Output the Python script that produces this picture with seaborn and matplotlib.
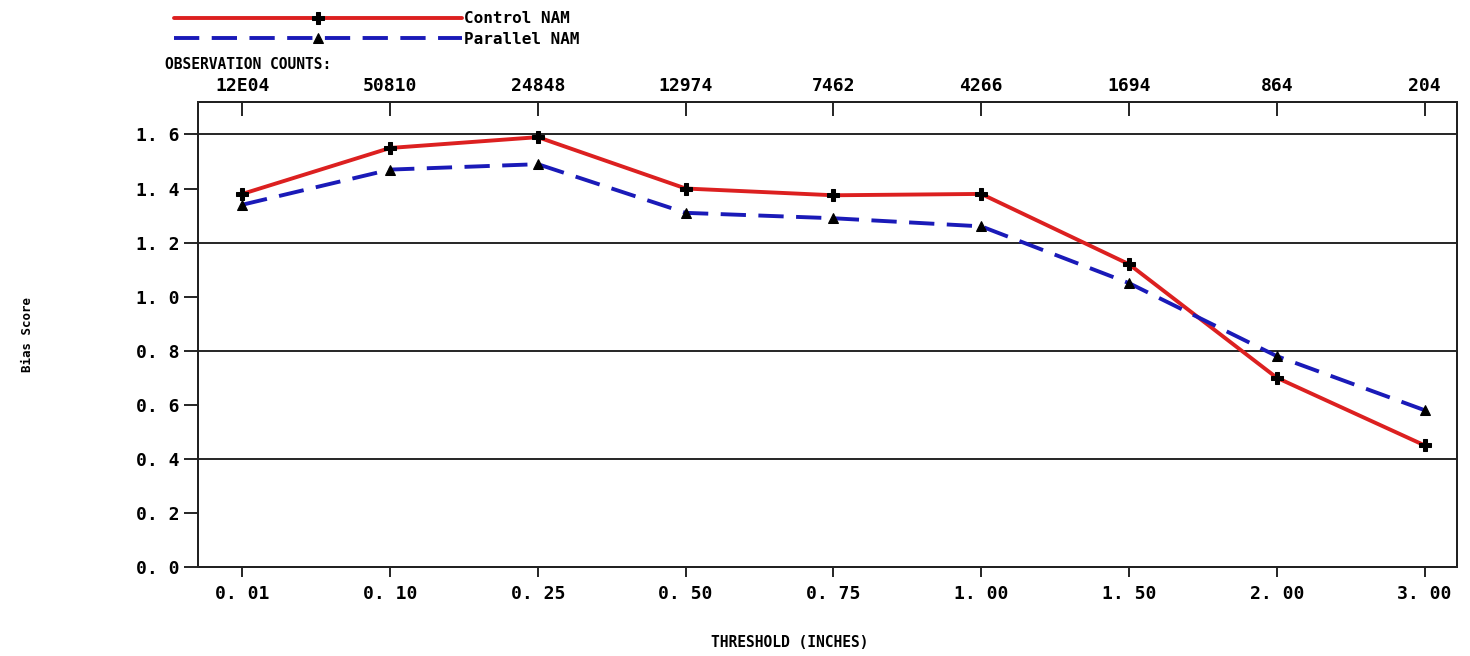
#!/usr/bin/env python3
"""
Bias score by precipitation threshold: Control NAM vs Parallel NAM.
"""

import pandas as pd
import matplotlib
matplotlib.use('Agg')
import matplotlib.pyplot as plt
import seaborn as sns

# Chart data
thresholds = ['0. 01', '0. 10', '0. 25', '0. 50', '0. 75', '1. 00', '1. 50', '2. 00', '3. 00']
obs_counts = ['12E04', '50810', '24848', '12974', '7462', '4266', '1694', '864', '204']
control_nam = [1.38, 1.55, 1.59, 1.40, 1.375, 1.38, 1.12, 0.70, 0.45]
parallel_nam = [1.34, 1.47, 1.49, 1.31, 1.29, 1.26, 1.05, 0.78, 0.58]
y_ticks = [0.0, 0.2, 0.4, 0.6, 0.8, 1.0, 1.2, 1.4, 1.6]
y_tick_labels = ['0. 0', '0. 2', '0. 4', '0. 6', '0. 8', '1. 0', '1. 2', '1. 4', '1. 6']
grid_levels = [0.4, 0.8, 1.2, 1.6]

sns.set_theme(style='ticks')
plt.rcParams['font.family'] = ['DejaVu Sans Mono', 'DejaVu Sans']
plt.rcParams['font.weight'] = 'bold'
plt.rcParams['text.color'] = 'black'

df = pd.DataFrame({
    'threshold': thresholds * 2,
    'bias': control_nam + parallel_nam,
    'run': ['Control NAM'] * len(thresholds) + ['Parallel NAM'] * len(thresholds),
})

fig = plt.figure(figsize=(14.7, 6.56), dpi=100)
ax = fig.add_axes([0.1347, 0.1357, 0.8565, 0.7088])

# horizontal reference lines
for lvl in grid_levels:
    ax.axhline(lvl, color='black', lw=1.2, zorder=1)

sns.lineplot(data=df[df.run == 'Control NAM'], x='threshold', y='bias', ax=ax,
             color='#dc2020', lw=2.8, marker='P', markersize=9,
             markerfacecolor='black', markeredgecolor='black',
             label='Control NAM', sort=False, zorder=3)
sns.lineplot(data=df[df.run == 'Parallel NAM'], x='threshold', y='bias', ax=ax,
             color='#1a1ab8', lw=2.8, marker='^', markersize=7,
             markerfacecolor='black', markeredgecolor='black',
             label='Parallel NAM', sort=False, zorder=3)
ax.lines[-1].set_dashes((6.5, 3.2))

ax.set_xlim(-0.3, len(thresholds) - 1 + 0.22)
ax.set_ylim(0, 1.72)
ax.set_yticks(y_ticks)
ax.set_yticklabels(y_tick_labels)
ax.set_xlabel('')
ax.set_ylabel('')
ax.tick_params(axis='y', direction='out', length=10, width=1.2, pad=3,
               labelsize=13, colors='black')
ax.tick_params(axis='x', direction='out', length=7, width=1.2, pad=6,
               labelsize=13, colors='black')
for sp in ax.spines.values():
    sp.set_visible(True)
    sp.set_color('black')
    sp.set_linewidth(1.4)

# observation counts on the top axis
top = ax.twiny()
top.set_xlim(ax.get_xlim())
top.set_xticks(range(len(obs_counts)))
top.set_xticklabels(obs_counts)
top.tick_params(axis='x', direction='in', length=10, width=1.2, pad=5,
                labelsize=13, colors='black')

fig.text(0.112, 0.901, 'OBSERVATION COUNTS:', fontsize=10.5, fontweight='bold',
         va='center', ha='left')
fig.text(0.537, 0.021, 'THRESHOLD (INCHES)', fontsize=10.5, fontweight='bold',
         va='center', ha='center')
fig.text(0.019, 0.49, 'Bias Score', fontsize=9, fontweight='bold', rotation=90,
         va='center', ha='center')

handles, labels = ax.get_legend_handles_labels()
ax.legend(handles, labels, loc='upper left', bbox_to_anchor=(0.111, 1.0),
          bbox_transform=fig.transFigure, frameon=False, handlelength=18,
          handletextpad=0.15, labelspacing=0.35, fontsize=11.5, borderpad=0.2)

fig.savefig('out.png', dpi=100, facecolor='white')
